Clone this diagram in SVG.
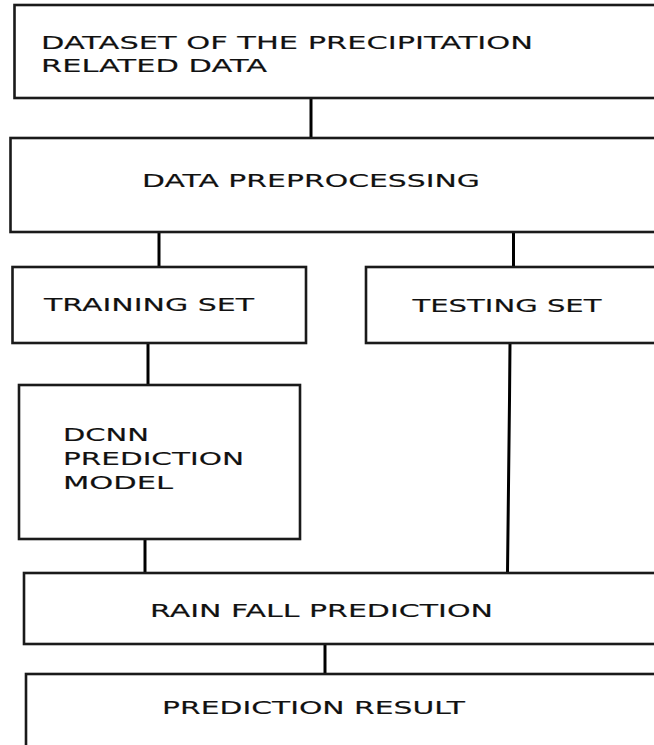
<svg xmlns="http://www.w3.org/2000/svg" width="654" height="745" viewBox="0 0 654 745">
<style>
.box{fill:#fff;stroke:#1a1a1a;stroke-width:2.6}
.lbl{font-family:"DejaVu Sans","Liberation Sans",sans-serif;font-size:17.5px;fill:#111;stroke:#111;stroke-width:0.15}
.con{fill:none;stroke:#000;stroke-width:3}
</style>
<rect width="654" height="745" fill="#fff"/>
<g id="connectors">
<line class="con" x1="311" y1="98" x2="311" y2="138"/>
<line class="con" x1="159" y1="232" x2="159" y2="267"/>
<line class="con" x1="513.5" y1="232" x2="513.5" y2="267"/>
<line class="con" x1="148" y1="343" x2="148" y2="385"/>
<polyline class="con" points="510,343 509.5,400 507.5,573"/>
<line class="con" x1="145" y1="539" x2="145" y2="573"/>
<line class="con" x1="325" y1="644" x2="325" y2="674"/>
</g>
<g id="dataset">
<rect class="box" x="14.5" y="5" width="660" height="93"/>
<text class="lbl" x="41" y="49" textLength="492" lengthAdjust="spacingAndGlyphs">DATASET OF THE PRECIPITATION</text>
<text class="lbl" x="41" y="72" textLength="226" lengthAdjust="spacingAndGlyphs">RELATED DATA</text>
</g>
<g id="preprocessing">
<rect class="box" x="10.5" y="138" width="660" height="94"/>
<text class="lbl" x="142" y="187" textLength="338" lengthAdjust="spacingAndGlyphs">DATA PREPROCESSING</text>
</g>
<g id="training">
<rect class="box" x="12.5" y="267" width="293.5" height="76"/>
<text class="lbl" x="44" y="311" textLength="210" lengthAdjust="spacingAndGlyphs">TRAINING SET</text>
</g>
<g id="testing">
<rect class="box" x="366" y="267" width="300" height="76"/>
<text class="lbl" x="412.5" y="312" textLength="189" lengthAdjust="spacingAndGlyphs">TESTING SET</text>
</g>
<g id="dcnn">
<rect class="box" x="19" y="385" width="281" height="154"/>
<text class="lbl" x="63" y="441" textLength="86" lengthAdjust="spacingAndGlyphs">DCNN</text>
<text class="lbl" x="63" y="465" textLength="181" lengthAdjust="spacingAndGlyphs">PREDICTION</text>
<text class="lbl" x="63" y="489" textLength="110" lengthAdjust="spacingAndGlyphs">MODEL</text>
</g>
<g id="rainfall">
<rect class="box" x="24" y="573" width="660" height="71"/>
<text class="lbl" x="150" y="617" textLength="343" lengthAdjust="spacingAndGlyphs">RAIN FALL PREDICTION</text>
</g>
<g id="result">
<rect class="box" x="26" y="674" width="660" height="80"/>
<text class="lbl" x="162" y="714" textLength="303" lengthAdjust="spacingAndGlyphs">PREDICTION RESULT</text>
</g>
</svg>
